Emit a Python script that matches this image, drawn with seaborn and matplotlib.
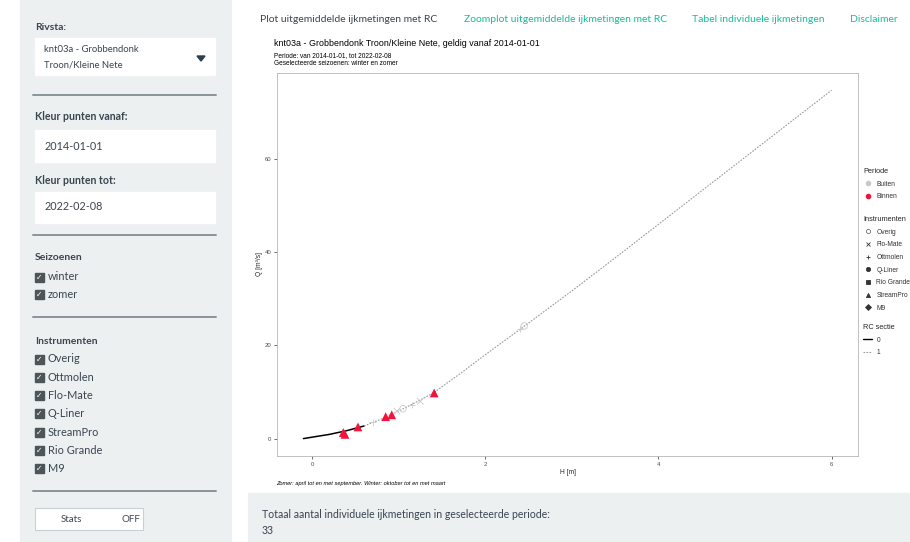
import matplotlib
matplotlib.use("Agg")
import matplotlib.pyplot as plt
import matplotlib.patches as mpatches
from matplotlib.lines import Line2D
import pandas as pd
import seaborn as sns

# rating curve, section 0 (solid) and section 1 (dotted)
rc0_h = [-0.1, 0.0, 0.1, 0.2, 0.3, 0.4, 0.5, 0.6]
rc0_q = [0.0, 0.3, 0.6, 0.9, 1.3, 1.7, 2.2, 2.7]
rc1_h = [0.6, 0.8, 1.0, 1.2, 1.4, 1.7, 2.0, 2.5, 3.0, 3.5, 4.0, 4.5, 5.0, 5.5, 6.0]
rc1_q = [2.7, 4.2, 5.9, 7.8, 9.8, 13.8, 18.0, 24.8, 31.7, 38.8, 46.0, 53.2, 60.4, 67.6, 74.8]

# averaged gaugings
pt_h = [0.36, 0.38, 0.53, 0.85, 0.92, 1.41, 0.70, 0.98, 1.05, 1.15, 1.25, 2.40, 2.45]
pt_q = [1.3, 0.9, 2.5, 4.7, 5.1, 9.8, 3.5, 5.9, 6.4, 7.2, 8.0, 23.5, 24.2]
pt_periode = ["Binnen"] * 6 + ["Buiten"] * 7
pt_instr = ["StreamPro"] * 6 + ["Ottmolen", "Flo-Mate", "Overig", "Ottmolen",
                                "Flo-Mate", "Ottmolen", "Overig"]

instr_order = ["Overig", "Flo-Mate", "Ottmolen", "Q-Liner", "Rio Grande", "StreamPro", "M9"]
instr_markers = {"Overig": "o", "Flo-Mate": "x", "Ottmolen": "+", "Q-Liner": "o",
                 "Rio Grande": "s", "StreamPro": "^", "M9": "D"}
periode_colors = {"Buiten": "#c9c9c9", "Binnen": "#f0143c"}

sidebar_items = ["Overig", "Ottmolen", "Flo-Mate", "Q-Liner", "StreamPro", "Rio Grande", "M9"]
tabs = ["Plot uitgemiddelde ijkmetingen met RC", "Zoomplot uitgemiddelde ijkmetingen met RC",
        "Tabel individuele ijkmetingen", "Disclaimer"]

rc = pd.concat([
    pd.DataFrame({"H": rc0_h, "Q": rc0_q, "sectie": "0"}),
    pd.DataFrame({"H": rc1_h, "Q": rc1_q, "sectie": "1"}),
])
pts = pd.DataFrame({"H": pt_h, "Q": pt_q, "Periode": pt_periode, "Instrument": pt_instr})

sns.set_style("white")
plt.rcParams["font.family"] = ["Liberation Sans", "DejaVu Sans"]

fig = plt.figure(figsize=(9.1, 5.42), dpi=100)

# background layer in pixel coordinates (the app around the plot)
bg = fig.add_axes([0, 0, 1, 1], zorder=0)
bg.set_xlim(0, 910)
bg.set_ylim(542, 0)
bg.axis("off")

ui = dict(family="Lato", color="#3a4550", va="center")
bg.add_patch(mpatches.Rectangle((20, 0), 211, 542, color="#ecf0f1"))
bg.add_patch(mpatches.Rectangle((248, 493), 662, 49, color="#ecf0f1"))

bg.text(35, 28, "Rivsta:", fontsize=7.5, weight="bold", **ui)
bg.add_patch(mpatches.Rectangle((35, 38), 180, 37, color="white"))
bg.text(44, 50, "knt03a - Grobbendonk", fontsize=6.8, **ui)
bg.text(44, 65, "Troon/Kleine Nete", fontsize=6.8, **ui)
bg.add_patch(mpatches.Polygon([(197, 56), (205, 56), (201, 61)], color="#2c3e50"))
bg.plot([33, 216], [95, 95], color="#8a9599", lw=1.4)

bg.text(35, 117, "Kleur punten vanaf:", fontsize=7.6, weight="bold", **ui)
bg.add_patch(mpatches.Rectangle((35, 130), 180, 32, color="white"))
bg.text(45, 146, "2014-01-01", fontsize=7.8, **ui)
bg.text(35, 180, "Kleur punten tot:", fontsize=7.6, weight="bold", **ui)
bg.add_patch(mpatches.Rectangle((35, 192), 180, 31, color="white"))
bg.text(45, 207, "2022-02-08", fontsize=7.8, **ui)
bg.plot([33, 216], [235, 235], color="#8a9599", lw=1.4)

def checkbox(y, label):
    bg.add_patch(mpatches.Rectangle((35, y - 4.5), 9, 9, color="#4d5559"))
    bg.text(39.5, y, "\u2713", fontsize=5.5, color="white", ha="center", va="center",
            family="DejaVu Sans", weight="bold")
    bg.text(48, y, label, fontsize=7.9, **ui)

bg.text(35, 258, "Seizoenen", fontsize=7.5, weight="bold", **ui)
checkbox(277, "winter")
checkbox(294, "zomer")
bg.plot([33, 216], [317, 317], color="#8a9599", lw=1.4)

bg.text(35, 341, "Instrumenten", fontsize=7.5, weight="bold", **ui)
for i, name in enumerate(sidebar_items):
    checkbox(359 + i * 18.3, name)
bg.plot([33, 216], [491, 491], color="#8a9599", lw=1.4)

bg.add_patch(mpatches.Rectangle((35, 508), 108, 22, facecolor="white", edgecolor="#c8d0d4", lw=0.8))
bg.text(71, 519, "Stats", fontsize=7, ha="center", family="Lato", color="#3a4550", va="center")
bg.text(131, 519, "OFF", fontsize=7, ha="center", family="Lato", color="#3a4550", va="center")

tab_x = [260, 464, 692, 850]
for i, (x, t) in enumerate(zip(tab_x, tabs)):
    bg.text(x, 20, t, fontsize=7.5, family="Lato", va="center",
            color="#3a4550" if i == 0 else "#18bc9c")

bg.text(262, 515, "Totaal aantal individuele ijkmetingen in geselecteerde periode:",
        fontsize=7.6, **ui)
bg.text(262, 530, "33", fontsize=7.6, **ui)

# plot titles (ggplot style)
bg.text(274, 44, "knt03a - Grobbendonk Troon/Kleine Nete, geldig vanaf 2014-01-01",
        fontsize=6.4, color="black", va="center")
bg.text(274, 56, "Periode: van 2014-01-01, tot 2022-02-08", fontsize=4.7, color="black", va="center")
bg.text(274, 63.5, "Geselecteerde seizoenen: winter en zomer", fontsize=4.7, color="black", va="center")
bg.text(276, 483, "Zomer: april tot en met september. Winter: oktober tot en met maart",
        fontsize=4.1, style="italic", color="black", va="center")

# main panel
ax = fig.add_axes([277 / 910, 1 - 456 / 542, 581 / 910, 383 / 542], zorder=1)
ax.set_facecolor("white")

sns.lineplot(data=rc[rc["sectie"] == "0"], x="H", y="Q", color="black", lw=1.1,
             ax=ax, legend=False, sort=False)
sns.lineplot(data=rc[rc["sectie"] == "1"], x="H", y="Q", color="#9a9a9a", lw=0.8,
             linestyle=(0, (1.5, 1.2)), ax=ax, legend=False, sort=False)

for name in instr_order:
    sub = pts[pts["Instrument"] == name]
    if sub.empty:
        continue
    line_art = name in ("Flo-Mate", "Ottmolen", "Overig")
    sns.scatterplot(data=sub, x="H", y="Q", hue="Periode", palette=periode_colors,
                    marker=instr_markers[name], s=22 if line_art else 40,
                    linewidth=0.6 if line_art else 0,
                    ax=ax, legend=False, zorder=3)
    if name == "Overig":
        coll = ax.collections[-1]
        coll.set_edgecolors(coll.get_facecolors())
        coll.set_facecolors("none")

ax.set_xlim(-0.405, 6.305)
ax.set_ylim(-3.74, 78.5)
ax.set_xticks([0, 2, 4, 6])
ax.set_yticks([0, 20, 40, 60])
ax.tick_params(axis="both", labelsize=4.3, labelcolor="#4d4d4d", length=2, width=0.5,
               color="#333333", pad=2, bottom=True, left=True)
for sp in ax.spines.values():
    sp.set_color("#b5b5b5")
    sp.set_linewidth(0.6)
ax.set_xlabel("H [m]", fontsize=4.8, labelpad=1.5)
ax.set_ylabel("Q [m³/s]", fontsize=4.8, labelpad=1)

# legends on the right, cut off by the screenshot edge
leg_kw = dict(loc="upper left", frameon=False, fontsize=4.8, title_fontsize=5.3,
              alignment="left", handlelength=1.4, handletextpad=0.6, labelspacing=0.85,
              borderaxespad=0, borderpad=0, labelcolor="#333333")
h1 = [Line2D([], [], ls="", marker="o", markersize=3, color=periode_colors[p]) for p in ["Buiten", "Binnen"]]
l1 = fig.legend(h1, ["Buiten", "Binnen"], title="Periode",
                bbox_to_anchor=(863 / 910, 1 - 168 / 542), **leg_kw)
h2 = []
for name in instr_order:
    if name == "Overig":
        h2.append(Line2D([], [], ls="", marker="o", markersize=3, markerfacecolor="none",
                         markeredgecolor="#555555", markeredgewidth=0.5))
    else:
        h2.append(Line2D([], [], ls="", marker=instr_markers[name], markersize=3,
                         color="#333333", markeredgewidth=0.6))
l2 = fig.legend(h2, instr_order, title="Instrumenten",
                bbox_to_anchor=(863 / 910, 1 - 216 / 542), **leg_kw)
h3 = [Line2D([], [], color="black", lw=1), Line2D([], [], color="#9a9a9a", lw=0.8, ls=(0, (1.5, 1.2)))]
l3 = fig.legend(h3, ["0", "1"], title="RC sectie",
                bbox_to_anchor=(863 / 910, 1 - 324 / 542), **leg_kw)

fig.savefig("out.png", dpi=100)
